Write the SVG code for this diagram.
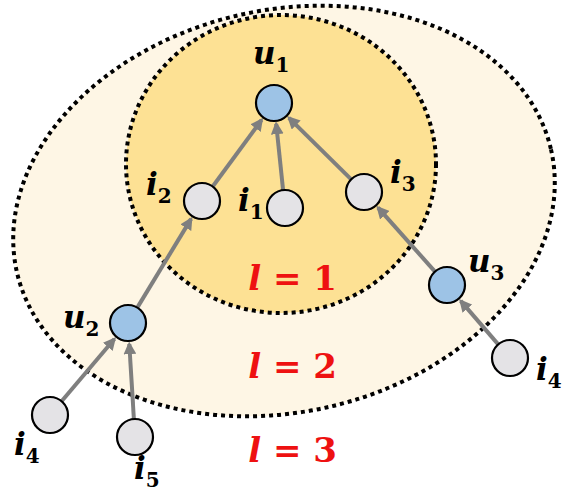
<svg xmlns="http://www.w3.org/2000/svg" width="563" height="497" viewBox="0 0 563 497">
<defs>
<style>
.ring{stroke:#000;stroke-width:4;stroke-dasharray:4 4;}
.edge{stroke:#7f7f7f;stroke-width:4;fill:none;marker-end:url(#ah);}
.blue{fill:#9dc3e6;stroke:#000;stroke-width:2.2;}
.gray{fill:#e4e3e6;stroke:#000;stroke-width:2.2;}
.lab{font-family:"DejaVu Serif",serif;font-weight:bold;font-style:italic;font-size:31px;fill:#000;}
.sub{font-style:normal;font-size:20px;}
.lvl{font-family:"DejaVu Serif",serif;font-weight:bold;font-size:34px;fill:#ee1111;}
</style>
<marker id="ah" viewBox="0 0 10 10" refX="8" refY="5" markerWidth="3.2" markerHeight="3.2" orient="auto" markerUnits="strokeWidth">
<path d="M0,0 L10,5 L0,10 z" fill="#7f7f7f"/>
</marker>
</defs>
<rect width="563" height="497" fill="#fff"/>
<g id="rings">
<ellipse cx="284" cy="211" rx="274" ry="201" transform="rotate(-13 284 211)" fill="#fef6e5" class="ring"/>
<ellipse cx="281" cy="164" rx="155" ry="149" fill="#fde194" class="ring"/>
</g>
<g id="levels">
<text class="lvl" x="292.5" y="290" text-anchor="middle"><tspan font-style="italic">l</tspan> = 1</text>
<text class="lvl" x="292.5" y="378" text-anchor="middle"><tspan font-style="italic">l</tspan> = 2</text>
<text class="lvl" x="292.5" y="462" text-anchor="middle"><tspan font-style="italic">l</tspan> = 3</text>
</g>
<g id="connectors">
<line class="edge" x1="212.7" y1="186.5" x2="261.6" y2="119.9"/>
<line class="edge" x1="283.1" y1="190.1" x2="276.2" y2="123.9"/>
<line class="edge" x1="351.2" y1="179.3" x2="288.9" y2="117.8"/>
<line class="edge" x1="137.3" y1="307.6" x2="191.1" y2="218.9"/>
<line class="edge" x1="435" y1="271.6" x2="378" y2="207.7"/>
<line class="edge" x1="61.6" y1="401.3" x2="114.4" y2="339"/>
<line class="edge" x1="133.9" y1="419" x2="129.3" y2="344"/>
<line class="edge" x1="498.2" y1="344.4" x2="460.7" y2="300.9"/>
</g>
<g id="u1"><circle class="blue" cx="274" cy="103" r="18"/><text class="lab" x="253" y="64">u<tspan class="sub" dy="8">1</tspan></text></g>
<g id="i2"><circle class="gray" cx="202" cy="201" r="18"/><text class="lab" x="146" y="195">i<tspan class="sub" dy="8">2</tspan></text></g>
<g id="i1"><circle class="gray" cx="285" cy="208" r="18"/><text class="lab" x="238" y="211">i<tspan class="sub" dy="8">1</tspan></text></g>
<g id="i3"><circle class="gray" cx="364" cy="192" r="18"/><text class="lab" x="390" y="183">i<tspan class="sub" dy="8">3</tspan></text></g>
<g id="u3"><circle class="blue" cx="447" cy="285" r="18"/><text class="lab" x="468" y="272">u<tspan class="sub" dy="8">3</tspan></text></g>
<g id="i4r"><circle class="gray" cx="510" cy="358" r="18"/><text class="lab" x="536" y="380">i<tspan class="sub" dy="8">4</tspan></text></g>
<g id="u2"><circle class="blue" cx="128" cy="323" r="18"/><text class="lab" x="63" y="328">u<tspan class="sub" dy="8">2</tspan></text></g>
<g id="i4l"><circle class="gray" cx="50" cy="415" r="18"/><text class="lab" x="14" y="455">i<tspan class="sub" dy="8">4</tspan></text></g>
<g id="i5"><circle class="gray" cx="135" cy="437" r="18"/><text class="lab" x="134" y="479">i<tspan class="sub" dy="8">5</tspan></text></g>
</svg>
